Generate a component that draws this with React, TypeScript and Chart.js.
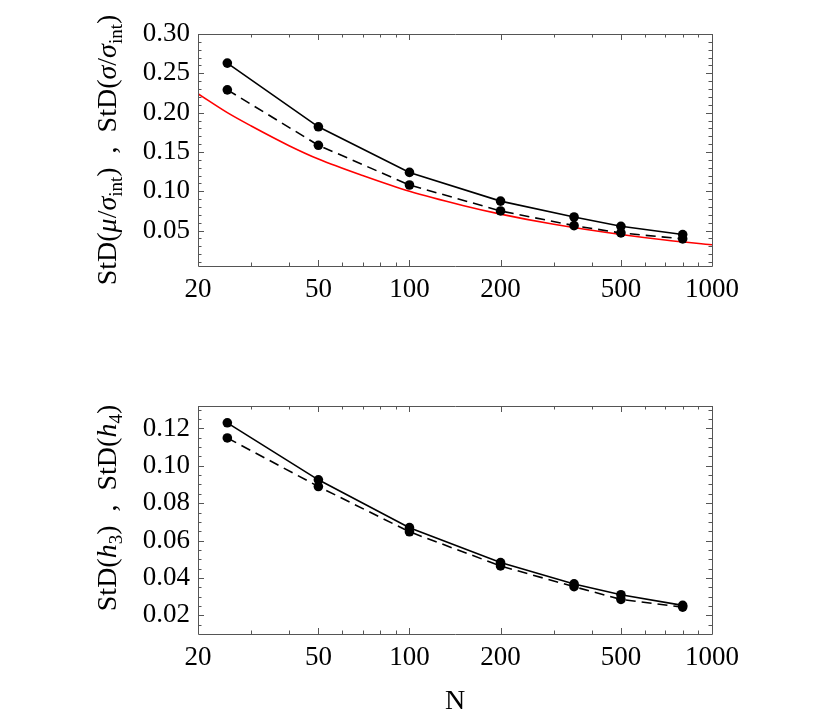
import React, { useEffect, useRef } from 'react';
import { Chart, registerables } from 'chart.js';
Chart.register(...registerables);

// ---- data ----
const N_VALUES = [25, 50, 100, 200, 350, 500, 800];
const TOP_SOLID = [0.263, 0.182, 0.124, 0.0875, 0.0673, 0.0555, 0.045];
const TOP_DASHED = [0.229, 0.1585, 0.108, 0.075, 0.0563, 0.047, 0.0395];
const RED_N = [20, 25, 30, 40, 50, 70, 100, 150, 200, 300, 500, 700, 1000];
const RED_VALUES = [0.224, 0.2, 0.183, 0.158, 0.141, 0.12, 0.1, 0.082, 0.071, 0.058, 0.045, 0.038, 0.032];
const BOTTOM_SOLID = [0.123, 0.0925, 0.0669, 0.0482, 0.0368, 0.031, 0.0253];
const BOTTOM_DASHED = [0.1149, 0.0889, 0.0647, 0.0464, 0.0353, 0.0285, 0.0244];

const X_MAJOR = [20, 50, 100, 200, 500, 1000];
const X_MINOR = [30, 40, 60, 70, 80, 90, 300, 400, 600, 700, 800, 900];
const TOP_Y_MAJOR = [0.05, 0.1, 0.15, 0.2, 0.25, 0.3];
const TOP_Y_MINOR = [0.01, 0.02, 0.03, 0.04, 0.06, 0.07, 0.08, 0.09, 0.11, 0.12, 0.13, 0.14, 0.16, 0.17, 0.18, 0.19, 0.21, 0.22, 0.23, 0.24, 0.26, 0.27, 0.28, 0.29];
const BOT_Y_MAJOR = [0.02, 0.04, 0.06, 0.08, 0.1, 0.12];
const BOT_Y_MINOR = [0.015, 0.025, 0.03, 0.035, 0.045, 0.05, 0.055, 0.065, 0.07, 0.075, 0.085, 0.09, 0.095, 0.105, 0.11, 0.115, 0.125, 0.13];

type Seg = { t: string; it?: boolean; sub?: boolean };
const TOP_TITLE: Seg[] = [
  { t: 'StD(' }, { t: 'μ', it: true }, { t: '/' }, { t: 'σ', it: true }, { t: 'int', sub: true }, { t: ')  ,  StD(' },
  { t: 'σ', it: true }, { t: '/' }, { t: 'σ', it: true }, { t: 'int', sub: true }, { t: ')' },
];
const BOT_TITLE: Seg[] = [
  { t: 'StD(' }, { t: 'h', it: true }, { t: '3', sub: true }, { t: ')  ,  StD(' }, { t: 'h', it: true }, { t: '4', sub: true }, { t: ')' },
];

const FONT = 'Liberation Serif, Times New Roman, serif';
const FS = 27;
const TFS = 28;

function framePlugin(xMinor: number[], yMajor: number[], yMinor: number[], title: Seg[], titleX: number, titleDy: number, xTitle?: { text: string; y: number }) {
  return {
    id: 'frame',
    afterDraw(chart: any) {
      const { ctx, chartArea } = chart;
      const { left, right, top, bottom } = chartArea;
      const xs = chart.scales.x;
      const ys = chart.scales.y;
      ctx.save();
      ctx.strokeStyle = '#555';
      ctx.lineWidth = 1;
      ctx.beginPath();
      ctx.rect(Math.round(left) + 0.5, Math.round(top) + 0.5, Math.round(right - left), Math.round(bottom - top));
      ctx.stroke();
      const tick = (vals: number[], len: number, horiz: boolean) => {
        ctx.beginPath();
        for (const v of vals) {
          if (horiz) {
            const px = Math.round(xs.getPixelForValue(v)) + 0.5;
            ctx.moveTo(px, bottom); ctx.lineTo(px, bottom - len);
            ctx.moveTo(px, top); ctx.lineTo(px, top + len);
          } else {
            const py = Math.round(ys.getPixelForValue(v)) + 0.5;
            ctx.moveTo(left, py); ctx.lineTo(left + len, py);
            ctx.moveTo(right, py); ctx.lineTo(right - len, py);
          }
        }
        ctx.stroke();
      };
      tick(X_MAJOR, 6, true);
      tick(xMinor, 3.5, true);
      tick(yMajor, 6, false);
      tick(yMinor, 3.5, false);

      // y title (rich text, rotated)
      ctx.fillStyle = '#000';
      ctx.textBaseline = 'alphabetic';
      ctx.textAlign = 'left';
      const fontFor = (s: Seg) => `${s.it ? 'italic ' : ''}${s.sub ? Math.round(TFS * 0.68) : TFS}px ${FONT}`;
      let total = 0;
      const widths = title.map((s) => { ctx.font = fontFor(s); const w = ctx.measureText(s.t).width; total += w; return w; });
      ctx.translate(titleX, (top + bottom) / 2 + titleDy);
      ctx.rotate(-Math.PI / 2);
      let cx = -total / 2;
      title.forEach((s, i) => {
        ctx.font = fontFor(s);
        ctx.fillText(s.t, cx, s.sub ? 6 : 0);
        cx += widths[i];
      });
      ctx.restore();
      if (xTitle) {
        ctx.save();
        ctx.fillStyle = '#000';
        ctx.font = `${TFS}px ${FONT}`;
        ctx.textAlign = 'center';
        ctx.textBaseline = 'middle';
        ctx.fillText(xTitle.text, (left + right) / 2, xTitle.y);
        ctx.restore();
      }
    },
  };
}

function makeConfig(datasets: any[], yMin: number, yMax: number, yMajor: number[], yMinor: number[], title: Seg[], titleDy: number, padding: any, xTitle?: { text: string; y: number }) {
  return {
    type: 'line',
    data: { datasets },
    options: {
      animation: false,
      responsive: false,
      devicePixelRatio: 1,
      layout: { padding },
      plugins: { legend: { display: false }, tooltip: { enabled: false } },
      scales: {
        x: {
          type: 'logarithmic', min: 20, max: 1000,
          grid: { display: false, drawTicks: false }, border: { display: false },
          ticks: { font: { family: FONT, size: FS }, color: '#000', padding: 8, autoSkip: false, maxRotation: 0, callback: (v: any) => String(v) },
          afterBuildTicks: (s: any) => { s.ticks = X_MAJOR.map((v) => ({ value: v })); },
          afterFit: (s: any) => { s.height = 64; },
        },
        y: {
          type: 'linear', min: yMin, max: yMax,
          grid: { display: false, drawTicks: false }, border: { display: false },
          ticks: { font: { family: FONT, size: FS }, color: '#000', padding: 8, callback: (v: any) => Number(v).toFixed(2) },
          afterBuildTicks: (s: any) => { s.ticks = yMajor.map((v) => ({ value: v })); },
          afterFit: (s: any) => { s.width = 80; },
        },
      },
    },
    plugins: [framePlugin(X_MINOR, yMajor, yMinor, title, 116, titleDy, xTitle)],
  };
}

const pts = (xs: number[], ys: number[]) => xs.map((x, i) => ({ x, y: ys[i] }));
const marker = { pointRadius: 4.8, pointBackgroundColor: '#000', pointBorderWidth: 0, borderColor: '#000', borderWidth: 1.6, tension: 0, fill: false };

export default function App() {
  const topRef = useRef<HTMLCanvasElement>(null);
  const botRef = useRef<HTMLCanvasElement>(null);
  useEffect(() => {
    const top = new Chart(topRef.current!, makeConfig([
      { data: pts(N_VALUES, TOP_SOLID), ...marker },
      { data: pts(N_VALUES, TOP_DASHED), ...marker, borderDash: [10, 6] },
      { data: pts(RED_N, RED_VALUES), borderColor: '#ff0000', borderWidth: 1.6, pointRadius: 0, cubicInterpolationMode: 'monotone', fill: false },
    ], 0.005, 0.3, TOP_Y_MAJOR, TOP_Y_MINOR, TOP_TITLE, 0, { left: 118, right: 118, top: 34, bottom: 0 }) as any);
    const bot = new Chart(botRef.current!, makeConfig([
      { data: pts(N_VALUES, BOTTOM_SOLID), ...marker },
      { data: pts(N_VALUES, BOTTOM_DASHED), ...marker, borderDash: [10, 6] },
    ], 0.01, 0.132, BOT_Y_MAJOR, BOT_Y_MINOR, BOT_TITLE, -12, { left: 118, right: 118, top: 36, bottom: 17 }, { text: 'N', y: 332 }) as any);
    return () => { top.destroy(); bot.destroy(); };
  }, []);
  return (
    <div style={{ position: 'fixed', left: 0, top: 0, width: 830, height: 715, background: '#fff' }}>
      <canvas ref={topRef} width={830} height={330} style={{ position: 'absolute', left: 0, top: 0, display: 'block' }} />
      <canvas ref={botRef} width={830} height={345} style={{ position: 'absolute', left: 0, top: 370, display: 'block' }} />
    </div>
  );
}
